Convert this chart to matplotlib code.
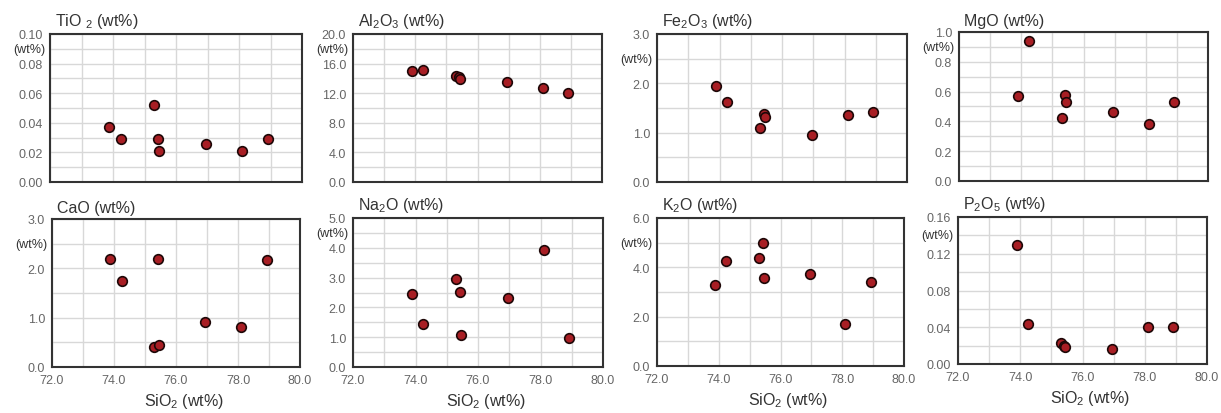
import matplotlib
matplotlib.use("Agg")
import matplotlib.pyplot as plt
from matplotlib.ticker import MultipleLocator
import matplotlib.transforms as mtransforms

plt.rcParams['font.family'] = ['Liberation Sans', 'DejaVu Sans']
plt.rcParams['mathtext.fontset'] = 'custom'
plt.rcParams['mathtext.rm'] = 'Liberation Sans'
plt.rcParams['mathtext.it'] = 'Liberation Sans'

# --- 数据 (SiO2 横坐标, 各氧化物纵坐标) ---
sio2 = [73.88, 74.25, 75.30, 75.42, 75.45, 76.95, 78.10, 78.92]
tio2 = [0.037, 0.029, 0.052, 0.029, 0.021, 0.026, 0.021, 0.029]
al2o3 = [15.05, 15.1, 14.3, 14.2, 13.95, 13.55, 12.7, 12.0]
fe2o3 = [1.95, 1.62, 1.10, 1.38, 1.31, 0.96, 1.36, 1.41]
mgo = [0.57, 0.94, 0.42, 0.58, 0.53, 0.46, 0.38, 0.53]
cao = [2.18, 1.74, 0.40, 2.18, 0.45, 0.92, 0.82, 2.16]
na2o = [2.45, 1.45, 2.95, 2.52, 1.07, 2.30, 3.93, 0.97]
k2o = [3.29, 4.24, 4.36, 5.00, 3.56, 3.75, 1.70, 3.40]
p2o5 = [0.129, 0.043, 0.023, 0.020, 0.018, 0.016, 0.040, 0.040]

titles = ['TiO $_2$ (wt%)', 'Al$_2$O$_3$ (wt%)', 'Fe$_2$O$_3$ (wt%)', 'MgO (wt%)',
          'CaO (wt%)', 'Na$_2$O (wt%)', 'K$_2$O (wt%)', 'P$_2$O$_5$ (wt%)']
series = [tio2, al2o3, fe2o3, mgo, cao, na2o, k2o, p2o5]
y_max = [0.10, 20.0, 3.0, 1.0, 3.0, 5.0, 6.0, 0.16]
y_major = [0.02, 4.0, 1.0, 0.2, 1.0, 1.0, 2.0, 0.04]
y_minor = [0.01, 2.0, 0.5, 0.1, 0.5, 0.5, 1.0, 0.02]
y_fmt = ['%.2f', '%.1f', '%.1f', '%.1f', '%.1f', '%.1f', '%.1f', '%.2f']

# 各子图在画布上的像素位置 (left, right, top, bottom)
W, H = 1221, 414
boxes = [(50, 302, 35, 183), (353, 602, 35, 183), (657, 907, 35, 183), (959, 1208, 33, 182),
         (52, 300, 220, 368), (353, 603, 219, 368), (657, 904, 219, 367), (958, 1207, 218, 365)]

fig = plt.figure(figsize=(W / 100, H / 100), dpi=100)
fig.patch.set_facecolor('white')

tick_color = '#666666'
text_color = '#333333'

for i, (l, r, t, b) in enumerate(boxes):
    ax = fig.add_axes([l / W, (H - b) / H, (r - l) / W, (b - t) / H])
    ax.set_xlim(72, 80)
    ax.set_ylim(0, y_max[i])

    ax.xaxis.set_major_locator(MultipleLocator(2))
    ax.xaxis.set_minor_locator(MultipleLocator(1))
    ax.yaxis.set_major_locator(MultipleLocator(y_major[i]))
    ax.yaxis.set_minor_locator(MultipleLocator(y_minor[i]))
    ax.yaxis.set_major_formatter(plt.FormatStrFormatter(y_fmt[i]))
    ax.xaxis.set_major_formatter(plt.FormatStrFormatter('%.1f'))

    ax.grid(True, which='both', color='#d8d8d8', linewidth=1.0)
    ax.set_axisbelow(True)
    ax.tick_params(which='both', length=0, labelsize=9, colors=tick_color, pad=5)
    for sp in ax.spines.values():
        sp.set_color('#333333')
        sp.set_linewidth(1.5)

    if i < 4:
        ax.tick_params(axis='x', labelbottom=False)
    else:
        ax.set_xlabel('SiO$_2$ (wt%)', fontsize=11.5, color=text_color, labelpad=5)
        ax.xaxis.set_label_coords(0.53, -0.16)

    ax.scatter(sio2, series[i], s=48, color='#a81e24', edgecolor='#1e0808',
               linewidth=1.2, zorder=3, clip_on=False)

    # 标题 (左上角)
    offset = mtransforms.offset_copy(ax.transAxes, fig=fig, x=5, y=4, units='dots')
    ax.text(0, 1, titles[i], transform=offset, ha='left', va='bottom',
            fontsize=11.5, color=text_color)

    # 纵轴单位 "(wt%)" 放在第一个次网格位置
    trans = mtransforms.blended_transform_factory(ax.transAxes, ax.transData)
    unit_off = mtransforms.offset_copy(trans, fig=fig, x=-5, y=0, units='dots')
    ax.text(0, y_max[i] - y_minor[i], '(wt%)', transform=unit_off, ha='right',
            va='center', fontsize=9, color=text_color)

fig.savefig('out.png', dpi=100)
